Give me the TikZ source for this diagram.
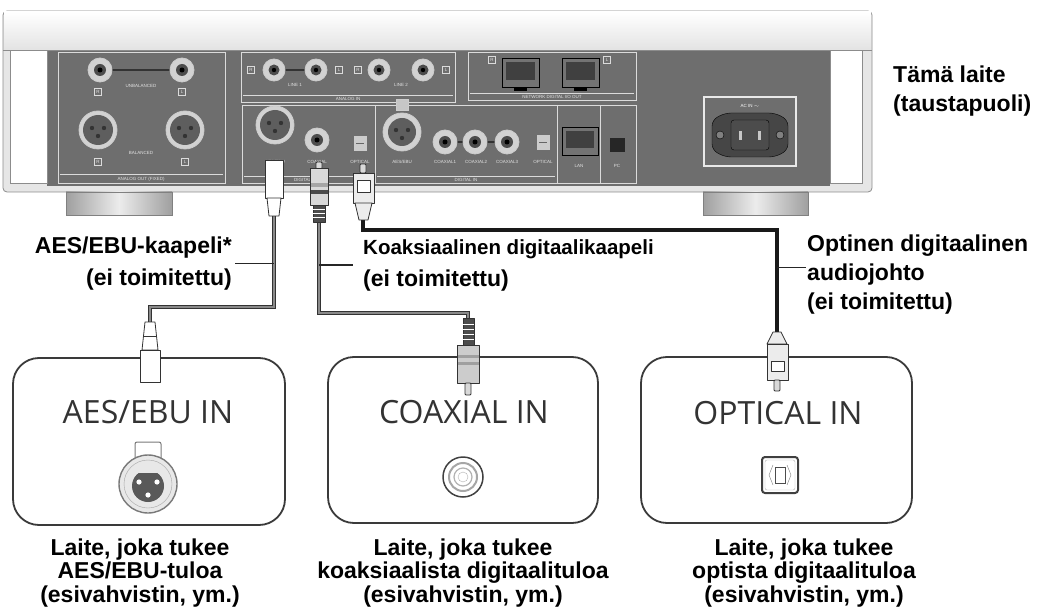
\documentclass[tikz,border=0pt]{standalone}
\usepackage{fontspec}
\setmainfont{Liberation Sans}
\newfontfamily\boxfont{Open Sans}
\usetikzlibrary{calc}

\definecolor{panelgray}{HTML}{6E6E6E}
\definecolor{caselight}{HTML}{E6E6E6}
\definecolor{edgegray}{HTML}{8C8C8C}
\definecolor{cablegray}{HTML}{8A8A8A}
\definecolor{boxline}{HTML}{3A3A3A}
\definecolor{jackring}{HTML}{D2D2D2}

\begin{document}
\begin{tikzpicture}[x=1pt, y=-1pt,
  lbl/.style={font=\bfseries\fontsize{23}{32}\selectfont, inner sep=0pt},
  caption/.style={font=\bfseries\fontsize{23}{23.5}\selectfont, inner sep=0pt, align=center, anchor=north},
  inbox/.style={draw=boxline, line width=1.8pt, rounded corners=26pt, inner sep=0pt},
  boxtitle/.style={font=\boxfont\fontsize{32}{32}\selectfont, text=black!80, inner sep=0pt, anchor=base},
  subpanel/.style={draw=white!75!panelgray, line width=0.9pt},
  tinytext/.style={font=\fontsize{4.5}{5}\selectfont, text=white!80!panelgray, inner sep=0pt},
  rca/.style={draw=white!65!panelgray, fill=jackring, line width=0.8pt},
  plugline/.style={draw=black!80, line width=0.8pt, line join=round},
  cable/.style={draw=black!80, double=cablegray, double distance=2pt, line width=0.9pt},
  optcable/.style={draw=black!90, line width=3.2pt},
  leader/.style={draw=black!85, line width=1.4pt},
]
  \useasboundingbox (0,0) rectangle (1040,612);

  % case of the unit
  \draw[edgegray, line width=0.8pt, fill=caselight, rounded corners=4pt] (3,11) rectangle (872,192);
  \fill[top color=white, bottom color=gray!22] (4,12) rectangle (871,50);
  \fill[panelgray] (47,50) rectangle (830,186);
  \draw[edgegray] (3,50) -- (872,50);
  \draw[edgegray, fill=white] (10,50) rectangle (47,183);
  \draw[edgegray, fill=white] (830,50) rectangle (862,183);
  \shadedraw[left color=gray!75, right color=gray!75, middle color=gray!15, draw=gray] (66,192) rectangle (172,215);
  \shadedraw[left color=gray!75, right color=gray!75, middle color=gray!15, draw=gray] (703,192) rectangle (808,215);

  % analog out
  \draw[subpanel] (58,52) rectangle (225,183);
  \draw[subpanel] (60,174) -- (223,174);
  \node[tinytext] (aoutlbl) at (141,179) {ANALOG OUT (FIXED)};
  \draw[black!80, line width=2.5pt] (100,70) -- (182,70);
  \foreach \x in {100,182} {
    \draw[rca] (\x,70) circle (12pt);
    \fill[black!70] (\x,70) circle (6pt);
    \fill[black] (\x,70) circle (2.5pt);
  }
  \node[tinytext] (unbal) at (141,86) {UNBALANCED};
  \foreach \x in {98,185} {
    \draw[rca] (\x,130) circle (19pt);
    \fill[panelgray!85!black] (\x,130) circle (15pt);
    \foreach \dx/\dy in {-6/-2, 6/-2, 0/6}
      \fill[black!80] (\x+\dx,130+\dy) circle (2.2pt);
  }
  \node[tinytext] (bal) at (141,153) {BALANCED};
  \foreach \x/\y/\t in {98/92/R, 182/92/L, 98/162/R, 185/162/L} {
    \draw[subpanel] (\x-3.5,\y-3.5) rectangle (\x+3.5,\y+3.5);
    \node[tinytext] at (\x,\y) {\t};
  }

  % analog in
  \draw[subpanel] (241,52) rectangle (455,102);
  \draw[subpanel] (243,95) -- (453,95);
  \node[tinytext] (ainlbl) at (348,99) {ANALOG IN};
  \draw[black!80, line width=2pt] (274,70) -- (316,70);
  \foreach \x in {274,316,379,423} {
    \draw[rca] (\x,70) circle (11pt);
    \fill[black!70] (\x,70) circle (5.5pt);
    \fill[black] (\x,70) circle (2.2pt);
  }
  \foreach \x/\t in {251/R, 339/L, 358/R, 446/L} {
    \draw[subpanel] (\x-3.5,66.5) rectangle (\x+3.5,73.5);
    \node[tinytext] at (\x,70) {\t};
  }
  \node[tinytext] (line1) at (295,85) {LINE 1};
  \node[tinytext] (line2) at (401,85) {LINE 2};

  % network digital i/o
  \draw[subpanel] (468,52) rectangle (636,100);
  \draw[subpanel] (470,93) -- (634,93);
  \node[tinytext] (netlbl) at (552,97) {NETWORK DIGITAL I/O OUT};
  \foreach \x in {502,562} {
    \draw[black, fill=black!55] (\x,58) rectangle (\x+37,87);
    \fill[black!75] (\x+4,62) rectangle (\x+33,80);
    \fill[black] (\x+12,87) rectangle (\x+25,91);
  }
  \foreach \x/\t in {492/R, 607/L} {
    \draw[subpanel] (\x-3.5,56.5) rectangle (\x+3.5,63.5);
    \node[tinytext] at (\x,60) {\t};
  }

  % digital out
  \draw[subpanel] (242,105) rectangle (375,183);
  \draw[subpanel] (244,176) -- (373,176);
  \node[tinytext] (doutlbl) at (308,180) {DIGITAL OUT};
  \draw[rca] (275,125) circle (19pt);
  \fill[panelgray!85!black] (275,125) circle (15pt);
  \foreach \dx/\dy in {-6/-2, 6/-2, 0/6}
    \fill[black!80] (275+\dx,125+\dy) circle (2.2pt);
  \draw[rca] (317,140) circle (12pt);
  \fill[black!70] (317,140) circle (6pt);
  \fill[black] (317,140) circle (2.5pt);
  \draw[white!65!panelgray, fill=gray!40] (354,136) rectangle (366,150);
  \draw[black!60] (356,143) -- (364,143);
  \node[tinytext] at (275,162) {AES/EBU};
  \node[tinytext] at (317,162) {COAXIAL};
  \node[tinytext] at (360,162) {OPTICAL};

  % digital in
  \draw[subpanel] (375,105) rectangle (557,183);
  \draw[subpanel] (377,176) -- (555,176);
  \node[tinytext] (dinlbl) at (466,180) {DIGITAL IN};
  \draw[white!65!panelgray, fill=gray!45] (396,99) rectangle (408,110);
  \draw[rca] (402,132) circle (19pt);
  \fill[panelgray!85!black] (402,132) circle (14pt);
  \foreach \dx/\dy in {-6/-2, 6/-2, 0/6}
    \fill[black!80] (402+\dx,132+\dy) circle (2.2pt);
  \draw[black!80, line width=2pt] (445,142) -- (507,142);
  \foreach \x in {445,475,507} {
    \draw[rca] (\x,142) circle (12pt);
    \fill[black!70] (\x,142) circle (6pt);
    \fill[black] (\x,142) circle (2.5pt);
  }
  \draw[white!65!panelgray, fill=gray!40] (537,135) rectangle (549,149);
  \draw[black!60] (539,142) -- (547,142);
  \node[tinytext] at (402,162) {AES/EBU};
  \node[tinytext] at (445,162) {COAXIAL1};
  \node[tinytext] at (476,162) {COAXIAL2};
  \node[tinytext] at (507,162) {COAXIAL3};
  \node[tinytext] at (543,162) {OPTICAL};

  % lan / usb
  \draw[subpanel] (557,105) rectangle (600,183);
  \draw[black, fill=black!55] (562,127) rectangle (598,155);
  \fill[black!75] (566,131) rectangle (594,148);
  \node[tinytext] (lanlbl) at (579,166) {LAN};
  \draw[subpanel] (600,105) rectangle (636,183);
  \fill[black!85] (610,138) rectangle (625,152);
  \node[tinytext] (usblbl) at (617,166) {PC};

  % ac in
  \draw[white!85!panelgray, line width=1.2pt] (704,97) rectangle (796,166);
  \node[tinytext, text=white] (aclbl) at (750,106) {AC IN $\sim$};
  \draw[black, fill=gray!55!black, rounded corners=6pt] (712,120) -- (725,113) -- (775,113) -- (788,120) -- (788,150) -- (775,157) -- (725,157) -- (712,150) -- cycle;
  \foreach \x in {720,780} \draw[black, fill=gray] (\x,135) circle (4pt);
  \draw[black, fill=black!70, rounded corners=3pt] (731,120) rectangle (769,150);
  \foreach \x in {739,758} \fill[gray!45] (\x,131) rectangle (\x+3,140);

  % input boxes
  \node[inbox, minimum width=272pt, minimum height=167pt] (aesbox) at (149,441.5) {};
  \node[inbox, minimum width=270pt, minimum height=166pt] (coaxbox) at (463,440) {};
  \node[inbox, minimum width=271pt, minimum height=166pt] (optbox) at (776.5,440) {};
  \node[boxtitle] (aestitle) at (148,423) {AES/EBU IN};
  \node[boxtitle] (coaxtitle) at (464,423) {COAXIAL IN};
  \node[boxtitle] (opttitle) at (778,424) {OPTICAL IN};

  % aes/ebu socket
  \draw[gray!95!black, fill=white, rounded corners=2pt, line width=1pt] (135,442) rectangle (161,460);
  \draw[gray!95!black, fill=gray!18, line width=1.4pt] (148,484) circle (29pt);
  \draw[gray!70] (148,484) circle (24pt);
  \begin{scope}
    \clip (128,473) rectangle (168,506);
    \fill[black!65] (148,486) circle (16pt);
  \end{scope}
  \foreach \x/\y in {139/482, 157/482, 148/495} \fill[white] (\x,\y) circle (2.6pt);
  % coaxial socket
  \draw[black!75, line width=1.5pt, fill=white] (463,477) circle (20pt);
  \draw[gray!70, line width=2pt] (463,477) circle (14pt);
  \draw[gray!60, line width=1.2pt] (463,477) circle (9pt);
  \draw[gray!60] (463,477) circle (5pt);
  % optical socket
  \draw[black!75, line width=2pt, fill=white, rounded corners=3pt] (762,457) rectangle (798,493);
  \draw[gray!60, rounded corners=2pt] (765,460) rectangle (795,490);
  \draw[black!70, line width=1pt] (775,467) rectangle (785,483);
  \draw[gray] (773,465) -- (769,475) -- (773,485);
  \draw[gray] (787,465) -- (791,475) -- (787,485);

  % cables
  \coordinate (aesout) at (274,216);
  \coordinate (aesin) at (150,322);
  \coordinate (aesbend) at (200,307);
  \coordinate (coaxout) at (319,222);
  \coordinate (coaxin) at (468,318);
  \coordinate (coaxbend) at (400,313);
  \coordinate (optout) at (363,220);
  \coordinate (optin) at (777,332);
  \coordinate (optbend) at (600,230);
  \draw[cable] (aesout) |- (aesbend) -| (aesin);
  \draw[cable] (coaxout) |- (coaxbend) -| (coaxin);
  \draw[optcable] (optout) |- (optbend) -| (optin);

  % plugs at the unit
  \draw[plugline, fill=white] (265,160) rectangle (283,198);
  \draw[plugline, fill=white] (267,198) -- (281,198) -- (279,216) -- (269,216) -- cycle;
  \draw[plugline, fill=gray!30, rounded corners=1pt] (316,162) rectangle (322,169);
  \draw[plugline, fill=gray!30] (310,168) rectangle (328,205);
  \fill[gray!70] (310.5,183) rectangle (327.5,187);
  \fill[black!70] (310.5,190) rectangle (327.5,194);
  \draw[plugline, fill=black!70] (313,205) rectangle (325,222);
  \foreach \y in {209,213,217} \draw[white, thin] (313,\y) -- (325,\y);
  \draw[plugline, fill=gray!30, rounded corners=1pt] (360,164) rectangle (366,173);
  \draw[plugline, fill=gray!15] (353,173) rectangle (374,203);
  \draw[plugline, fill=white] (357,180) rectangle (370,192);
  \draw[plugline, fill=gray!15] (355,203) -- (372,203) -- (368,220) -- (359,220) -- cycle;

  % plugs at the inputs
  \draw[plugline, fill=white] (145,322) -- (155,322) -- (158,350) -- (142,350) -- cycle;
  \draw[plugline] (144,336) -- (156,336);
  \draw[plugline, fill=white] (140,350) rectangle (160,382);
  \draw[plugline, fill=black!70] (463,318) rectangle (474,345);
  \foreach \y in {324,329,334,339} \draw[white, thin] (463,\y) -- (474,\y);
  \draw[plugline, fill=gray!40] (457,345) rectangle (479,383);
  \fill[gray!75] (457.5,355) rectangle (478.5,358);
  \fill[gray!75] (457.5,362) rectangle (478.5,365);
  \draw[plugline, fill=gray!30, rounded corners=1pt] (465,383) rectangle (471,395);
  \draw[plugline, fill=gray!15] (773,332) -- (781,332) -- (787,344) -- (767,344) -- cycle;
  \draw[plugline, fill=gray!15] (767,344) rectangle (788,380);
  \draw[plugline, fill=white] (771,361) rectangle (784,371);
  \draw[plugline, fill=gray!30, rounded corners=1pt] (774,380) rectangle (780,391);

  % labels
  \node[lbl, anchor=north west, align=left, font=\bfseries\fontsize{23}{29}\selectfont] (devlbl) at (893,66) {Tämä laite\\(taustapuoli)};
  \node[lbl, anchor=north east, align=right] (aeslbl) at (232,236.5) {AES/EBU-kaapeli*\\(ei toimitettu)};
  \node[lbl, anchor=north west, align=left] (coaxlbl) at (363,239) {{\fontsize{20.5}{32}\selectfont Koaksiaalinen digitaalikaapeli}\\(ei toimitettu)};
  \node[lbl, anchor=north west, align=left, font=\bfseries\fontsize{23}{29}\selectfont] (optlbl) at (807,234.5) {Optinen digitaalinen\\audiojohto\\(ei toimitettu)};
  \coordinate (opttap) at ($(optlbl.west)+(-1,-7)$);
  \draw[leader] (aeslbl.east) ++(3pt,0) -- (aeslbl.east -| aesout);
  \draw[leader] (coaxout |- coaxlbl.west) -- ([xshift=-10pt]coaxlbl.west);
  \draw[leader] (opttap -| optin) -- (opttap);

  \node[caption] (aescap) at (140,538.5) {Laite, joka tukee\\AES/EBU-tuloa\\(esivahvistin, ym.)};
  \node[caption] (coaxcap) at (463,538.5) {Laite, joka tukee\\koaksiaalista digitaalituloa\\(esivahvistin, ym.)};
  \node[caption] (optcap) at (804,538.5) {Laite, joka tukee\\optista digitaalituloa\\(esivahvistin, ym.)};
\end{tikzpicture}
\end{document}
